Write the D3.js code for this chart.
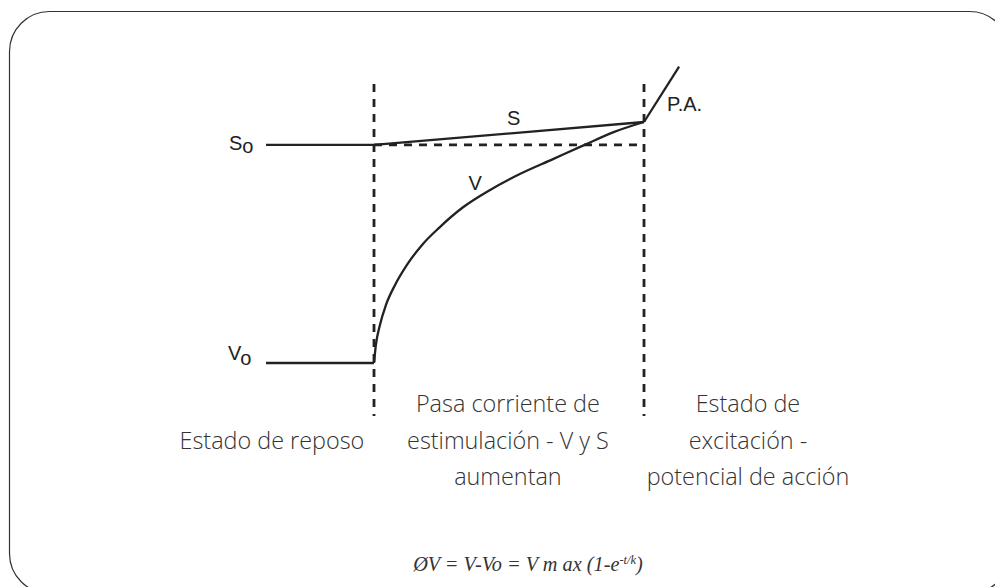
<!DOCTYPE html>
<html>
<head>
<meta charset="UTF-8" />
<title>V y S</title>
<script src="https://d3js.org/d3.v7.min.js"></script>
<style>
  body { margin: 0; background: #fff; }
  .curve { fill: none; stroke: #222; stroke-width: 2.3; }
  .guide { fill: none; stroke: #222; stroke-width: 2.8; stroke-dasharray: 8 7; }
  .lbl { font-family: "Liberation Sans", Arial, sans-serif; font-size: 20px; fill: #222; }
  .stage { font-family: "Open Sans", sans-serif; font-weight: 300; font-size: 23.4px; fill: #333; }
  .formula { font-family: "Liberation Serif", serif; font-style: italic; font-size: 20.3px; fill: #333; }
</style>
</head>
<body>
<svg id="chart"></svg>
<script>
// time axis (arbitrary units): rest -4..0, stimulus 0..10, action potential after 10
var restT = [-4, 0]
var restV = [0, 0]
var restS = [90.5, 90.5]

// V rising during the stimulus
var stimT = [0, 0.07, 0.22, 0.44, 0.78, 1.22, 1.78, 2.44, 3.26, 4.3, 5.4, 6.63, 7.8, 8.9, 10]
var stimV = [0, 7.5, 15.8, 24, 32.4, 40.7, 49, 56.4, 64.3, 71.8, 78.4, 84.6, 90.5, 95.9, 100]

// S rising slowly
var sT = [0, 10]
var sV = [90.5, 100]

// action potential
var paT = [10, 11.3]
var paV = [100, 123]

var stageBounds = [0, 10]
var threshold = 90.5

var stageText = [
  {t: -3.78, lines: ["", "Estado de reposo", ""]},
  {t: 4.96, lines: ["Pasa corriente de", "estimulación - V y S", "aumentan"]},
  {t: 13.85, lines: ["Estado de", "excitación -", "potencial de acción"]}
]

var W = 995, H = 587

var x = d3.scaleLinear().domain([0, 10]).range([374, 644])
var y = d3.scaleLinear().domain([0, 100]).range([363, 122])

var svg = d3.select("#chart").attr("width", W).attr("height", H)

// frame
svg.append("rect")
  .attr("x", 9.5).attr("y", 11.5)
  .attr("width", 1000).attr("height", 582)
  .attr("rx", 40).attr("ry", 40)
  .attr("fill", "none").attr("stroke", "#333").attr("stroke-width", 1.2)

var line = d3.line().x(d => x(d[0])).y(d => y(d[1]))
var curveLine = d3.line().x(d => x(d[0])).y(d => y(d[1])).curve(d3.curveMonotoneX)

// dashed guides
stageBounds.forEach(t => {
  svg.append("path").attr("class", "guide")
    .attr("d", line([[t, y.invert(84)], [t, y.invert(416)]]))
})
svg.append("path").attr("class", "guide")
  .attr("d", line([[stageBounds[0], threshold], [stageBounds[1], threshold]]))

// solid lines
svg.append("path").attr("class", "curve").attr("stroke-width", 3).attr("d", line(d3.zip(restT, restS)))
svg.append("path").attr("class", "curve").attr("stroke-width", 3).attr("d", line(d3.zip(restT, restV)))
svg.append("path").attr("class", "curve").attr("stroke-width", 2).attr("d", line(d3.zip(sT, sV)))
svg.append("path").attr("class", "curve").attr("d", curveLine(d3.zip(stimT, stimV)))
svg.append("path").attr("class", "curve").attr("d", line(d3.zip(paT, paV)))

// curve labels
var so = svg.append("text").attr("class", "lbl").attr("x", 229).attr("y", y(threshold) + 5)
so.append("tspan").text("S")
so.append("tspan").attr("dy", 3).text("o")
var vo = svg.append("text").attr("class", "lbl").attr("x", 228).attr("y", y(0) - 3)
vo.append("tspan").text("V")
vo.append("tspan").attr("dy", 5).text("o")

svg.append("text").attr("class", "lbl").attr("x", x(4.93)).attr("y", y(98.8)).text("S")
svg.append("text").attr("class", "lbl").attr("x", x(3.5)).attr("y", y(71.8)).text("V")
svg.append("text").attr("class", "lbl").attr("x", x(10.85)).attr("y", y(104.5)).text("P.A.")

// stage descriptions
stageText.forEach(s => {
  s.lines.forEach((l, i) => {
    svg.append("text").attr("class", "stage")
      .attr("x", x(s.t)).attr("y", 412 + i * 36.5)
      .attr("text-anchor", "middle").text(l)
  })
})

// formula
var f = svg.append("text").attr("class", "formula")
  .attr("x", 528).attr("y", 571).attr("text-anchor", "middle")
f.append("tspan").text("ØV = V-Vo = V m ax (1-e")
f.append("tspan").attr("dy", -7).attr("font-size", "12.5px").text("-t/k")
f.append("tspan").attr("dy", 7).text(")")
</script>
</body>
</html>
